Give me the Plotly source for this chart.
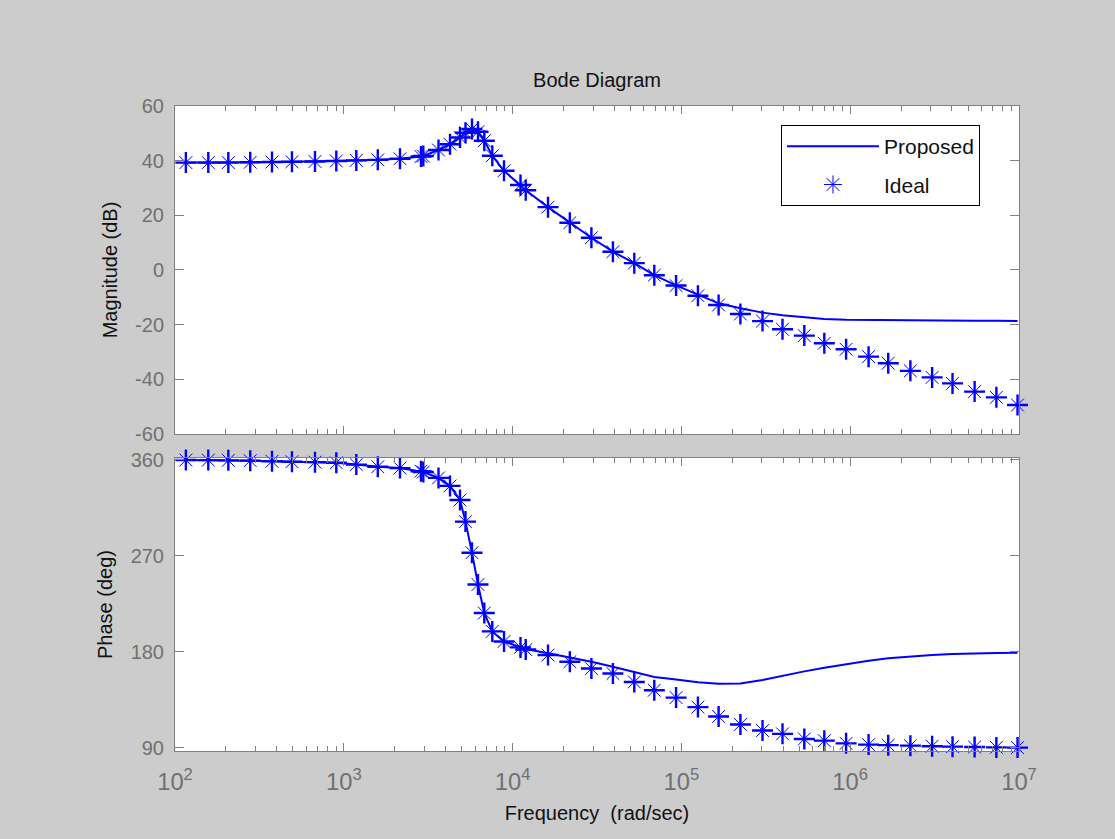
import plotly.graph_objects as go

# Frequency grid (rad/sec)
freq = [116, 157.5, 207, 279, 375.5, 493, 675, 903, 1186, 1590,
        2152, 2866, 2958, 3640, 4258, 4880, 5260, 5746, 6237, 6799,
        7582, 8894, 11140, 11960, 16210, 21830, 29300, 39290, 52600, 69100,
        93000, 125300, 166100, 223700, 302400, 397200, 534800, 702600, 945600, 1285000,
        1680000, 2273000, 3057000, 4038000, 5458000, 7346000, 9800000]

ideal_mag = [39.3, 39.3, 39.3, 39.4, 39.5, 39.6, 39.7, 39.9, 40.1, 40.3,
             40.7, 41.5, 41.7, 43.9, 46.0, 48.5, 50.2, 51.6, 50.6, 47.3,
             41.8, 36.3, 31.1, 29.2, 23.0, 17.3, 11.8, 6.7, 2.5, -1.9,
             -5.7, -9.4, -12.8, -16.1, -18.7, -21.7, -24.0, -26.8, -29.0, -31.7,
             -34.1, -36.9, -39.3, -41.5, -44.5, -46.6, -49.4]

ideal_phase = [359.8, 359.7, 359.5, 359.2, 358.6, 358.2, 357.8, 357.2, 355.5, 353.5,
               352.2, 349.3, 348.5, 343.0, 335.5, 322.3, 302.0, 272.8, 243.0, 216.2,
               199.0, 189.5, 184.0, 182.0, 176.8, 170.5, 164.2, 159.5, 151.6, 143.8,
               136.9, 128.0, 119.2, 111.7, 106.0, 102.9, 98.1, 96.5, 94.0, 92.8,
               92.3, 91.8, 91.3, 90.9, 90.5, 90.2, 90.0]

proposed_mag = [39.3, 39.3, 39.3, 39.4, 39.5, 39.6, 39.7, 39.9, 40.1, 40.3,
                40.7, 41.5, 41.7, 43.9, 46.0, 48.5, 50.2, 51.6, 50.6, 47.3,
                41.8, 36.3, 31.1, 29.2, 23.0, 17.3, 11.8, 6.7, 2.5, -1.9,
                -5.6, -9.0, -12.2, -14.0, -15.6, -16.6, -17.4, -17.9, -18.2, -18.3,
                -18.4, -18.5, -18.5, -18.6, -18.6, -18.6, -18.7]

proposed_phase = [359.8, 359.7, 359.5, 359.2, 358.6, 358.2, 357.8, 357.2, 355.5, 353.5,
                  352.2, 349.3, 348.5, 343.0, 335.5, 322.3, 302.0, 272.8, 243.0, 216.2,
                  199.0, 189.5, 184.5, 182.5, 178.5, 174.6, 170.5, 165.8, 161.1, 156.3,
                  153.9, 151.3, 150.0, 150.2, 153.5, 157.5, 161.5, 165.0, 168.5, 171.5,
                  173.8, 175.6, 176.8, 177.7, 178.4, 178.8, 179.0]

mag_ticks = [-60, -40, -20, 0, 20, 40, 60]
mag_tick_text = ["-60", "-40", "-20", "0", "20", "40", "60"]
phase_ticks = [90, 180, 270, 360]
phase_tick_text = ["90", "180", "270", "360"]

BLUE = "#0000ff"
GRAY_AX = "#808080"
TICK_TXT = "#707070"
TXT = "#111111"
FONT = "Liberation Sans, Arial, sans-serif"

star_plain = dict(symbol="asterisk-open", size=15, color=BLUE,
                  line=dict(color=BLUE, width=1))
star_cross = dict(symbol="cross-thin-open", size=15, color=BLUE,
                  line=dict(color=BLUE, width=2.4))

fig = go.Figure()

# Magnitude
fig.add_trace(go.Scatter(x=freq, y=proposed_mag, mode="lines", name="Proposed",
                         line=dict(color=BLUE, width=2), xaxis="x", yaxis="y",
                         legendgroup="p"))
fig.add_trace(go.Scatter(x=freq, y=ideal_mag, mode="markers", name="Ideal",
                         marker=star_plain, cliponaxis=False,
                         xaxis="x", yaxis="y", legendgroup="i"))
fig.add_trace(go.Scatter(x=freq, y=ideal_mag, mode="markers", showlegend=False,
                         marker=star_cross, cliponaxis=False,
                         xaxis="x", yaxis="y", hoverinfo="skip"))
# Phase
fig.add_trace(go.Scatter(x=freq, y=proposed_phase, mode="lines", showlegend=False,
                         line=dict(color=BLUE, width=2), xaxis="x2", yaxis="y2"))
fig.add_trace(go.Scatter(x=freq, y=ideal_phase, mode="markers", showlegend=False,
                         marker=star_plain, cliponaxis=False, xaxis="x2", yaxis="y2"))
fig.add_trace(go.Scatter(x=freq, y=ideal_phase, mode="markers", showlegend=False,
                         marker=star_cross, cliponaxis=False,
                         xaxis="x2", yaxis="y2", hoverinfo="skip"))

xcommon = dict(type="log", range=[2, 7], dtick=1, tick0=0,
               ticks="inside", ticklen=8, tickwidth=1, tickcolor=GRAY_AX,
               showline=True, linecolor=GRAY_AX, linewidth=1, mirror="ticks",
               showgrid=False, zeroline=False,
               minor=dict(ticks="inside", ticklen=5, tickcolor=GRAY_AX, dtick="D1",
                          showgrid=False),
               exponentformat="power",
               tickfont=dict(family=FONT, size=19, color=TICK_TXT))
ycommon = dict(ticks="inside", ticklen=9, tickwidth=1, tickcolor=GRAY_AX,
               showline=True, linecolor=GRAY_AX, linewidth=1, mirror="ticks",
               showgrid=False, zeroline=False, ticklabelstandoff=6,
               tickfont=dict(family=FONT, size=20, color=TICK_TXT))

fig.update_layout(
    width=1115, height=839,
    paper_bgcolor="#cccccc", plot_bgcolor="#ffffff",
    margin=dict(l=175, r=96, t=106, b=88),
    font=dict(family=FONT, size=20, color=TXT),
    title=dict(text="Bode Diagram", x=0.5, xref="paper", xanchor="center",
               y=1 - 80 / 839, yanchor="middle",
               font=dict(family=FONT, size=20, color=TXT)),
    xaxis=dict(**xcommon, domain=[0, 1], anchor="y", showticklabels=False),
    yaxis=dict(**ycommon, domain=[0.4915, 1], anchor="x", range=[-60, 60],
               tickmode="array", tickvals=mag_ticks, ticktext=mag_tick_text,
               title=dict(text="Magnitude (dB)", standoff=12,
                          font=dict(family=FONT, size=20, color=TXT))),
    xaxis2=dict(**xcommon, domain=[0, 1], anchor="y2", showticklabels=True,
                ticklabelstandoff=10,
                title=dict(text="Frequency \u00a0(rad/sec)", standoff=12,
                           font=dict(family=FONT, size=20, color=TXT))),
    yaxis2=dict(**ycommon, domain=[0, 0.4543], anchor="x2", range=[86.8, 361.7],
                tickmode="array", tickvals=phase_ticks, ticktext=phase_tick_text,
                title=dict(text="Phase (deg)", standoff=12,
                           font=dict(family=FONT, size=20, color=TXT))),
    legend=dict(x=0.718, y=0.9705, xanchor="left", yanchor="top",
                bgcolor="#ffffff", bordercolor="#000000", borderwidth=1,
                font=dict(family=FONT, size=21, color=TXT),
                itemwidth=92, tracegroupgap=8, traceorder="grouped"),
    showlegend=True,
)

fig.write_html("out.html")
